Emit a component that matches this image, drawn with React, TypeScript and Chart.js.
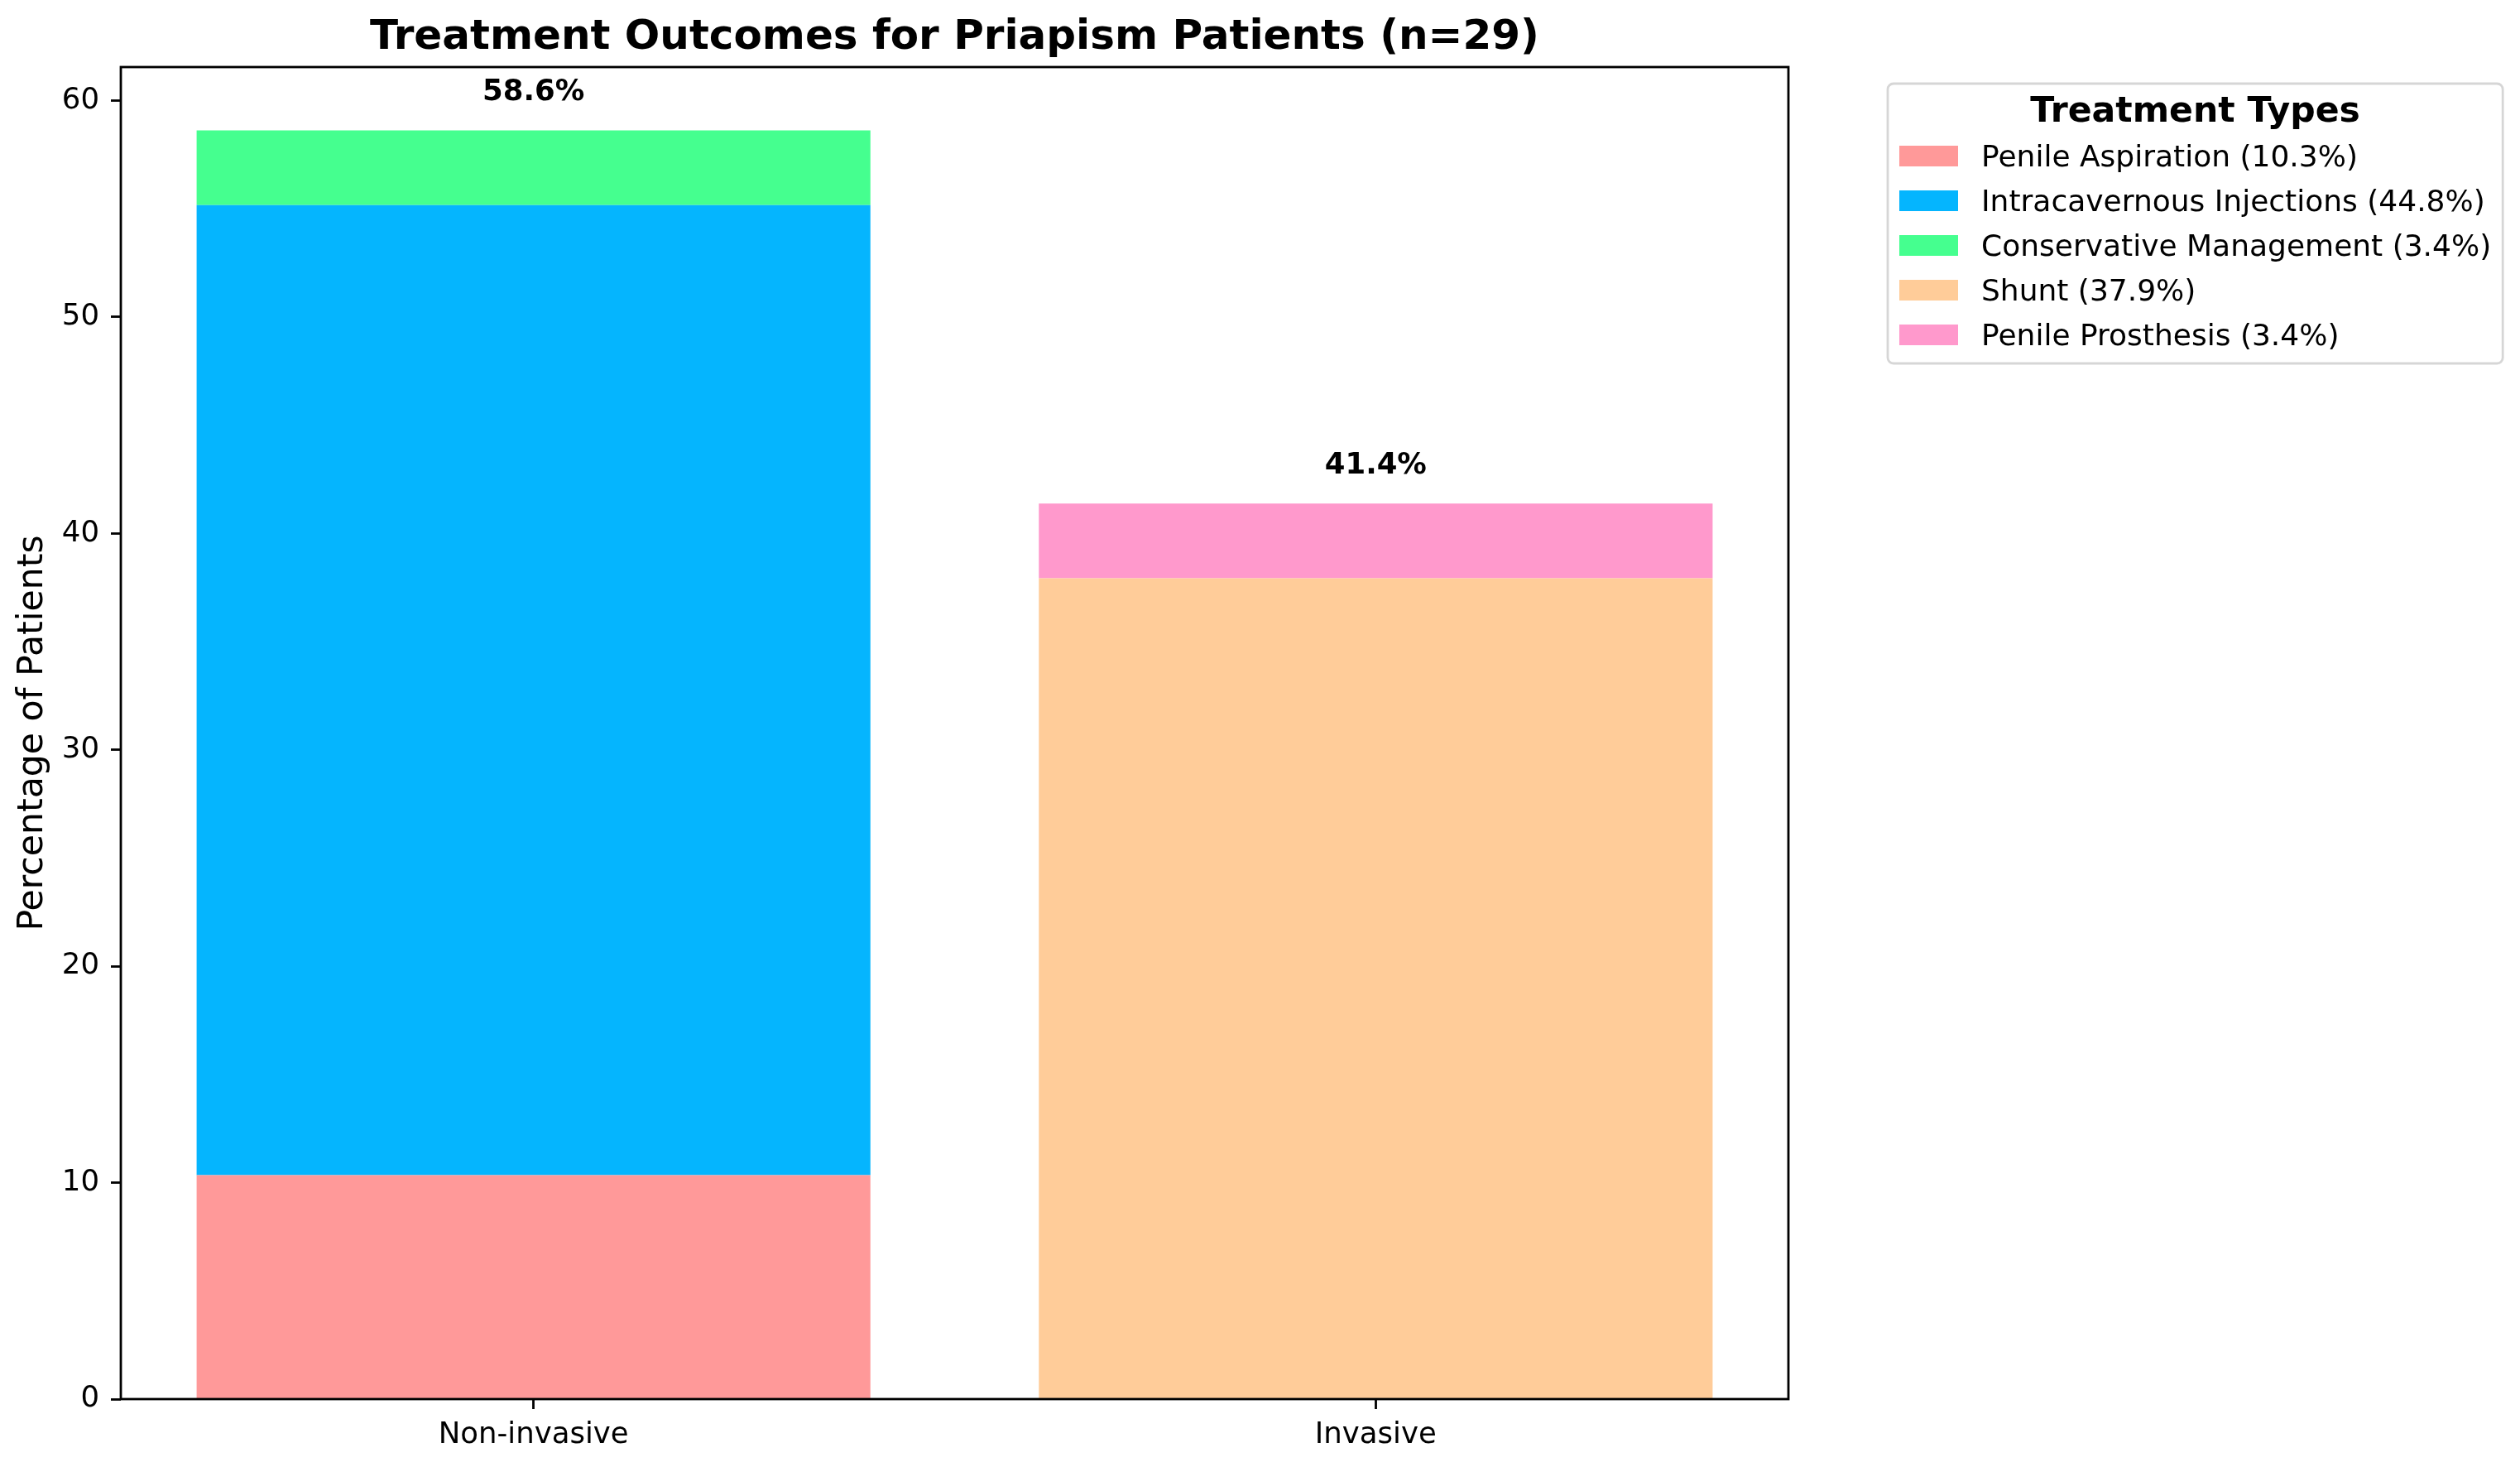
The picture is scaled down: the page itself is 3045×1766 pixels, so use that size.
import { useEffect, useRef } from 'react';
import { Chart, registerables } from 'chart.js';

Chart.register(...registerables);

// ---- data ----
const categories = ['Non-invasive', 'Invasive'];
const treatmentNames = [
  'Penile Aspiration',
  'Intracavernous Injections',
  'Conservative Management',
  'Shunt',
  'Penile Prosthesis',
];
const treatmentCategory = [0, 0, 0, 1, 1];
const treatmentPercents = [10.345, 44.828, 3.448, 37.931, 3.448];
const treatmentColors = ['#FF9999', '#05B5FE', '#45FF8F', '#FFCC99', '#FF99CC'];
const yTicks = [0, 10, 20, 30, 40, 50, 60];
const titleText = 'Treatment Outcomes for Priapism Patients (n=29)';
const yAxisLabel = 'Percentage of Patients';
const legendTitle = 'Treatment Types';

const FONT = "'DejaVu Sans', sans-serif";
const BAR_WIDTH = 0.8;

const totals = categories.map((_, ci) =>
  treatmentPercents.reduce((s, v, t) => (treatmentCategory[t] === ci ? s + v : s), 0)
);
const yMax = Math.max(...totals) * 1.05;
// matplotlib-like 5% margins around the bar extents
const xLo = -BAR_WIDTH / 2;
const xHi = categories.length - 1 + BAR_WIDTH / 2;
const xPad = (xHi - xLo) * 0.05;

const framePlugin = {
  id: 'frame',
  afterDatasetsDraw(chart: any) {
    const { ctx, chartArea: a } = chart;
    ctx.save();
    ctx.strokeStyle = '#000';
    ctx.lineWidth = 2.8;
    ctx.strokeRect(a.left, a.top, a.right - a.left, a.bottom - a.top);
    ctx.restore();
  },
};

const barLabelPlugin = {
  id: 'barLabels',
  afterDatasetsDraw(chart: any) {
    const { ctx } = chart;
    const xs = chart.scales.x;
    const ys = chart.scales.y;
    ctx.save();
    ctx.font = `bold 35.5px ${FONT}`;
    ctx.fillStyle = '#000';
    ctx.textAlign = 'center';
    ctx.textBaseline = 'alphabetic';
    categories.forEach((_, i) => {
      const px = xs.getPixelForValue(i);
      const py = ys.getPixelForValue(totals[i] + 1) - 10;
      ctx.fillText(`${totals[i].toFixed(1)}%`, px, py);
    });
    ctx.restore();
  },
};

const titlePlugin = {
  id: 'customTitle',
  afterDraw(chart: any) {
    const { ctx, chartArea: a } = chart;
    ctx.save();
    ctx.font = `bold 50px ${FONT}`;
    ctx.fillStyle = '#000';
    ctx.textAlign = 'center';
    ctx.textBaseline = 'alphabetic';
    ctx.fillText(titleText, (a.left + a.right) / 2, a.top - 22);
    ctx.restore();
  },
};

const legendPlugin = {
  id: 'customLegend',
  afterDraw(chart: any) {
    const { ctx, chartArea: a } = chart;
    const datasets = chart.data.datasets;
    ctx.save();
    ctx.font = `36px ${FONT}`;
    let maxW = 0;
    datasets.forEach((d: any) => {
      maxW = Math.max(maxW, ctx.measureText(d.label).width);
    });
    const left = a.right + 120;
    const top = a.top + 20;
    const width = 14 + 71 + 28 + maxW + 14;
    const height = 100 + (datasets.length - 1) * 54 + 8 + 14;
    ctx.beginPath();
    ctx.roundRect(left, top, width, height, 7);
    ctx.fillStyle = 'rgba(255,255,255,0.8)';
    ctx.fill();
    ctx.strokeStyle = 'rgba(204,204,204,0.8)';
    ctx.lineWidth = 2.8;
    ctx.stroke();

    ctx.font = `bold 42.6px ${FONT}`;
    ctx.fillStyle = '#000';
    ctx.textAlign = 'center';
    ctx.textBaseline = 'alphabetic';
    ctx.fillText(legendTitle, left + width / 2, top + 46);

    ctx.font = `36px ${FONT}`;
    ctx.textAlign = 'left';
    datasets.forEach((d: any, i: number) => {
      const base = top + 100 + i * 54;
      ctx.fillStyle = d.backgroundColor;
      ctx.fillRect(left + 14, base - 25, 71, 25);
      ctx.fillStyle = '#000';
      ctx.fillText(d.label, left + 14 + 71 + 28, base);
    });
    ctx.restore();
  },
};

export default function App() {
  const ref = useRef<HTMLCanvasElement>(null);

  useEffect(() => {
    const datasets = treatmentNames.map((name, t) => ({
      label: `${name} (${treatmentPercents[t].toFixed(1)}%)`,
      data: [{ x: treatmentCategory[t], y: treatmentPercents[t] }],
      backgroundColor: treatmentColors[t],
      borderWidth: 0,
      categoryPercentage: 1,
      barPercentage: BAR_WIDTH,
    }));

    const chart = new Chart(ref.current as HTMLCanvasElement, {
      type: 'bar',
      data: { datasets },
      options: {
        responsive: false,
        devicePixelRatio: 1,
        animation: false,
        layout: { padding: { left: 0, top: 81, right: 884, bottom: 0 } },
        plugins: {
          legend: { display: false },
          tooltip: { enabled: false },
          title: { display: false },
        },
        scales: {
          x: {
            type: 'linear',
            stacked: true,
            min: xLo - xPad,
            max: xHi + xPad,
            offset: false,
            grid: {
              display: true,
              drawOnChartArea: false,
              drawTicks: true,
              tickLength: 12,
              tickWidth: 2.8,
              tickColor: '#000',
              offset: false,
            },
            border: { display: false },
            ticks: {
              font: { family: FONT, size: 35.5 },
              color: '#000',
              padding: 10,
              maxRotation: 0,
              autoSkip: false,
              includeBounds: false,
              callback: (v: any) => categories[v] ?? '',
            },
            afterBuildTicks: (s: any) => {
              s.ticks = categories.map((_, i) => ({ value: i }));
            },
            afterFit: (s: any) => {
              s.height = 76;
            },
          },
          y: {
            type: 'linear',
            stacked: true,
            min: 0,
            max: yMax,
            grid: {
              display: true,
              drawOnChartArea: false,
              drawTicks: true,
              tickLength: 12,
              tickWidth: 2.8,
              tickColor: '#000',
            },
            border: { display: false },
            ticks: {
              font: { family: FONT, size: 35.5 },
              color: '#000',
              padding: 14,
              includeBounds: false,
            },
            afterBuildTicks: (s: any) => {
              s.ticks = yTicks.map((v) => ({ value: v }));
            },
            title: {
              display: true,
              text: yAxisLabel,
              font: { family: FONT, size: 42.6 },
              color: '#000',
              padding: { top: 14, bottom: 0 },
            },
            afterFit: (s: any) => {
              s.width = 146;
            },
          },
        },
      },
      plugins: [framePlugin, barLabelPlugin, titlePlugin, legendPlugin],
    });
    return () => chart.destroy();
  }, []);

  return (
    <div style={{ position: 'fixed', left: 0, top: 0, width: 3045, height: 1766, background: '#fff' }}>
      <canvas ref={ref} width={3045} height={1766} style={{ display: 'block', width: 3045, height: 1766 }} />
    </div>
  );
}
